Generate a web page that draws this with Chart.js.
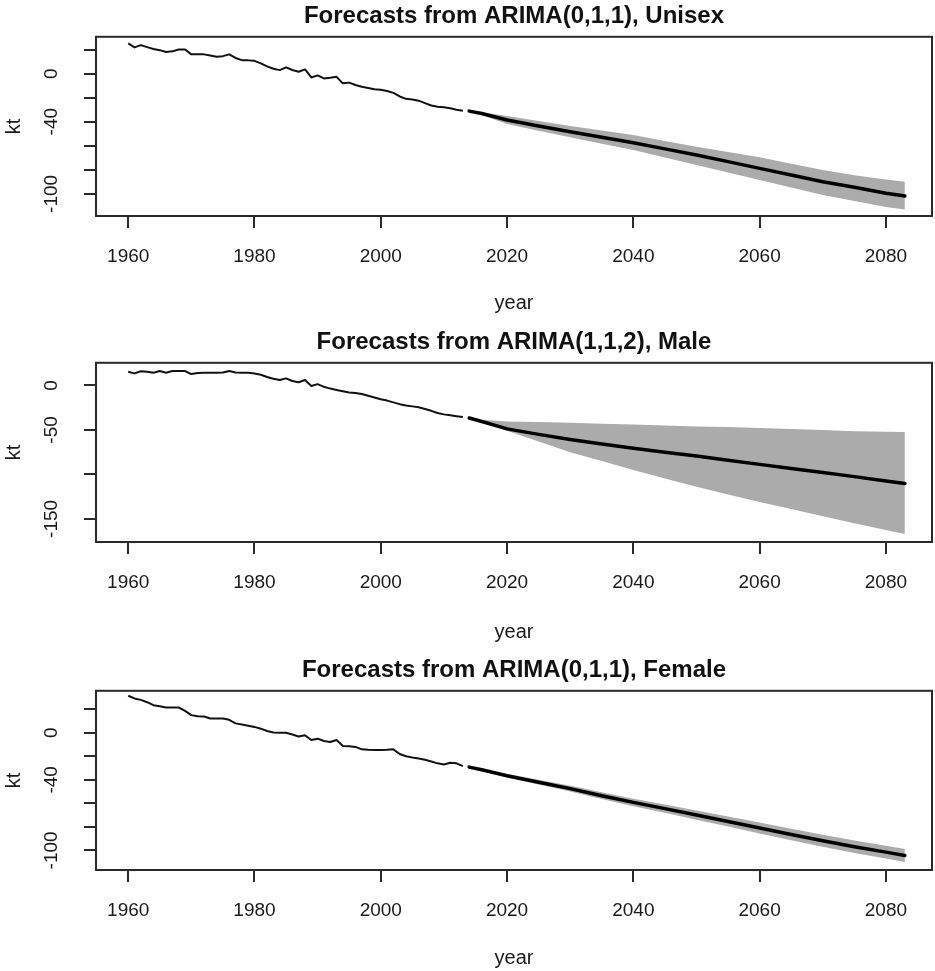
<!DOCTYPE html>
<html>
<head>
<meta charset="utf-8">
<script src="https://cdn.jsdelivr.net/npm/chart.js@4.4.1/dist/chart.umd.min.js"></script>
<style>
  body { margin: 0; background: #fff; }
  #wrap { position: relative; width: 935px; height: 971px; overflow: hidden; background: #fff; }
  canvas { position: absolute; left: 0; }
</style>
</head>
<body>
<div id="wrap">
  <canvas id="unisex" width="935" height="324" style="top:0px"></canvas>
  <canvas id="male" width="935" height="324" style="top:326px"></canvas>
  <canvas id="female" width="935" height="317" style="top:654px"></canvas>
</div>
<script>
// years 1960..2013 observed, forecast read every few years up to 2083
const histYears = Array.from({ length: 54 }, (_, i) => 1960 + i);
const fcYears = [2014, 2016, 2020, 2025, 2030, 2035, 2040, 2045, 2050, 2055, 2060, 2065, 2070, 2075, 2080, 2083];
const xTicks = [1960, 1980, 2000, 2020, 2040, 2060, 2080];

// Unisex
const unisexHist = [25.1, 21.8, 23.7, 22, 20.5, 19.5, 18, 18.5, 20, 20,
  16, 16, 16, 15, 14, 14.5, 16, 13, 11.2, 11,
  10.6, 8.5, 6, 4, 2.9, 5.2, 3, 1.5, 3.5, -3.2,
  -1.5, -4, -3.5, -2.7, -8.1, -7.5, -9.5, -11, -12, -13,
  -13.5, -14.5, -16, -19, -21, -21.5, -22.5, -24.5, -26.5, -27.5,
  -28, -28.8, -30, -30.8];
const unisexMean = [-31.2, -33.2, -38.6, -43.5, -48.4, -53, -57.5, -62.6, -67.7, -73.2, -78.8, -84.3, -89.9, -94.5, -99.5, -101.8];
const unisexUpper = [-31.2, -32.2, -35.3, -39.5, -43.6, -47.4, -51.1, -56, -60.8, -65.2, -69.6, -75, -80.2, -84.5, -88, -89.9];
const unisexLower = [-31.2, -34.5, -42, -47.5, -53, -58.3, -63.6, -69.8, -76, -82.2, -88.5, -94.8, -101, -106, -111, -112.9];
const unisexYTicks = [20, 0, -20, -40, -60, -80, -100];
const unisexYLabels = [0, -40, -100];

// Male
const maleHist = [15.4, 13.6, 16, 15.5, 14.3, 16.2, 14.3, 16.2, 16.2, 16.2,
  12.8, 14, 14.3, 14.3, 14.3, 14.5, 16.2, 14.5, 14.3, 14.3,
  13.5, 12, 9.5, 7.5, 6.1, 8, 5, 3.6, 6.1, -0.6,
  1.5, -1.5, -3.5, -5, -6.5, -8, -8.5, -9.5, -11.5, -13.5,
  -15.5, -17, -19, -21, -22.5, -23.5, -24.5, -26.5, -28.5, -31,
  -32.5, -33.5, -34.5, -35.5];
const maleMean = [-36.6, -40.5, -48.8, -55, -60.8, -65.8, -70.5, -75, -79.4, -84, -88.7, -93.3, -97.9, -102.5, -107.3, -110.2];
const maleUpper = [-36.6, -38.5, -40.5, -41.2, -42, -43, -44, -45, -46, -46.8, -47.8, -48.9, -50.2, -51.5, -52, -52.2];
const maleLower = [-36.6, -40, -51, -63, -75, -85, -95, -104.5, -114, -122.5, -131, -139, -147, -155, -162.5, -167];
const maleYTicks = [0, -50, -100, -150];
const maleYLabels = [0, -50, -150];

// Female
const femaleHist = [31.5, 29.2, 28, 26, 23.5, 22.5, 21.5, 21.5, 21.5, 18.6,
  15, 14, 13.8, 12.1, 12.1, 12.1, 11, 8, 7, 6,
  5, 3.5, 1.5, 0.2, 0, 0, -1.5, -3.2, -2.1, -6.2,
  -5, -7, -7.9, -6.2, -11.3, -11.5, -12, -14.1, -14.5, -14.7,
  -14.7, -14.5, -14.1, -18, -20, -21, -21.8, -23, -24.5, -26,
  -26.9, -25.5, -26, -28.4];
const femaleMean = [-29.2, -31.5, -36.5, -42, -47.5, -53.5, -59.2, -64.5, -70, -75.5, -81, -86.5, -91.9, -97, -101.5, -104.4];
const femaleUpper = [-29.2, -30.7, -35, -40, -45, -50.6, -56, -60.9, -66, -71.2, -76.4, -81.6, -86.8, -91.7, -96, -98.8];
const femaleLower = [-29.2, -32.3, -38, -44, -50, -56.4, -62.4, -68.1, -74, -79.8, -85.6, -91.4, -97, -102.3, -107, -110];
const femaleYTicks = [20, 0, -20, -40, -60, -80, -100];
const femaleYLabels = [0, -40, -100];

Chart.defaults.font.family = "'Liberation Sans', Arial, sans-serif";
Chart.defaults.color = "#1a1a1a";

const ink = "#2a2a2a";
const band = "#ababab";

function pts(xs, ys) {
  return xs.map((x, i) => ({ x: x, y: ys[i] }));
}

// box round the plot + R style rotated y labels
const rAxis = {
  id: "rAxis",
  afterDraw(chart, args, opts) {
    const ctx = chart.ctx;
    const a = chart.chartArea;
    ctx.save();
    ctx.strokeStyle = ink;
    ctx.lineWidth = 2;
    ctx.strokeRect(a.left, a.top, a.right - a.left, a.bottom - a.top);
    ctx.fillStyle = "#1a1a1a";
    ctx.font = "19px 'Liberation Sans', Arial, sans-serif";
    ctx.textAlign = "center";
    ctx.textBaseline = "alphabetic";
    const ys = chart.scales.y;
    opts.labels.forEach((v) => {
      ctx.save();
      ctx.translate(57, ys.getPixelForValue(v));
      ctx.rotate(-Math.PI / 2);
      ctx.fillText(String(v), 0, 0);
      ctx.restore();
    });
    ctx.restore();
  }
};

function makePanel(id, p) {
  const cv = document.getElementById(id);
  const H = cv.height;
  return new Chart(cv, {
    type: "line",
    data: {
      datasets: [
        { data: pts(fcYears, p.mean), borderColor: "#000", borderWidth: 3.5, borderCapStyle: "round", borderJoinStyle: "round", pointRadius: 0, fill: false, tension: 0 },
        { data: pts(fcYears, p.upper), borderColor: "rgba(0,0,0,0)", borderWidth: 1, backgroundColor: band, pointRadius: 0, fill: "+1", tension: 0 },
        { data: pts(fcYears, p.lower), borderColor: "rgba(0,0,0,0)", borderWidth: 1, pointRadius: 0, fill: false, tension: 0 },
        { data: pts(histYears, p.hist), borderColor: "#111", borderWidth: 2, borderJoinStyle: "round", pointRadius: 0, fill: false, tension: 0 }
      ]
    },
    options: {
      responsive: false,
      animation: false,
      devicePixelRatio: 1,
      layout: { padding: { left: 0, right: 3, top: 0, bottom: 0 } },
      plugins: {
        legend: { display: false },
        tooltip: { enabled: false },
        title: {
          display: true,
          text: p.title,
          fullSize: false,
          color: "#111",
          font: { size: 24, weight: "bold" },
          padding: { top: 2, bottom: 6 }
        },
        rAxis: { labels: p.yLabels }
      },
      scales: {
        x: {
          type: "linear",
          min: 1954.9,
          max: 2087.3,
          afterBuildTicks: (s) => { s.ticks = xTicks.map((v) => ({ value: v })); },
          afterFit: (s) => { s.height = H - 216; },
          grid: { display: true, drawOnChartArea: false, drawTicks: true, tickLength: 12, color: ink, lineWidth: 2 },
          border: { display: true, color: ink, width: 2 },
          ticks: { font: { size: 19 }, padding: 17, maxRotation: 0, autoSkip: false, callback: (v) => String(v) },
          title: { display: true, text: "year", font: { size: 20 }, padding: { top: 0, bottom: p.yearPad } }
        },
        y: {
          type: "linear",
          min: p.yMin,
          max: p.yMax,
          afterBuildTicks: (s) => { s.ticks = p.yTicks.map((v) => ({ value: v })); },
          afterFit: (s) => { s.width = 96; },
          grid: { display: true, drawOnChartArea: false, drawTicks: true, tickLength: 12, color: ink, lineWidth: 2 },
          border: { display: true, color: ink, width: 2 },
          ticks: { display: false },
          title: { display: true, text: "kt", font: { size: 20 }, padding: { top: 2, bottom: 0 } }
        }
      }
    },
    plugins: [rAxis]
  });
}

makePanel("unisex", {
  title: "Forecasts from ARIMA(0,1,1), Unisex",
  hist: unisexHist, mean: unisexMean, upper: unisexUpper, lower: unisexLower,
  yTicks: unisexYTicks, yLabels: unisexYLabels, yMin: -118.4, yMax: 30.6, yearPad: 9
});
makePanel("male", {
  title: "Forecasts from ARIMA(1,1,2), Male",
  hist: maleHist, mean: maleMean, upper: maleUpper, lower: maleLower,
  yTicks: maleYTicks, yLabels: maleYLabels, yMin: -176, yMax: 25.5, yearPad: 6
});
makePanel("female", {
  title: "Forecasts from ARIMA(0,1,1), Female",
  hist: femaleHist, mean: femaleMean, upper: femaleUpper, lower: femaleLower,
  yTicks: femaleYTicks, yLabels: femaleYLabels, yMin: -116.7, yMax: 35.7, yearPad: 1
});
</script>
</body>
</html>
